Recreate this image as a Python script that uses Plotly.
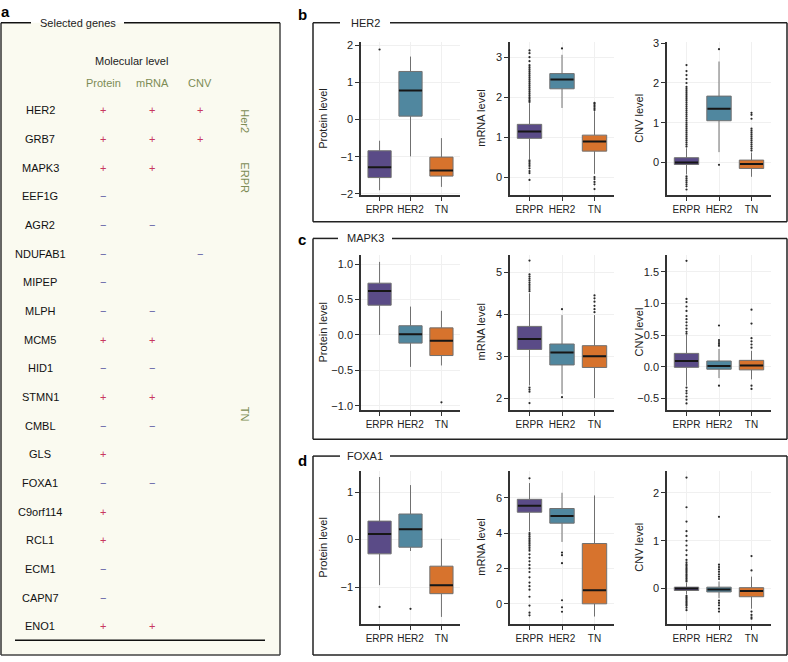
import plotly.graph_objects as go

W, H = 788, 662

# ---------------- Panel a data ----------------
genes = ["HER2", "GRB7", "MAPK3", "EEF1G", "AGR2", "NDUFAB1", "MIPEP", "MLPH", "MCM5",
         "HID1", "STMN1", "CMBL", "GLS", "FOXA1", "C9orf114", "RCL1", "ECM1", "CAPN7", "ENO1"]
protein_sign = ["+", "+", "+", "−", "−", "−", "−", "−", "+", "−", "+", "−", "+", "−", "+", "+", "−", "−", "+"]
mrna_sign    = ["+", "+", "+", "", "−", "", "", "−", "+", "−", "+", "−", "", "−", "", "", "", "", "+"]
cnv_sign     = ["+", "+", "", "", "", "−", "", "", "", "", "", "", "", "", "", "", "", "", ""]
level_labels = ["Protein", "mRNA", "CNV"]
subtype_labels = ["Her2", "ERPR", "TN"]

# ---------------- Panels b-d data ----------------
groups = ["ERPR", "HER2", "TN"]
# per group: (lower whisker, q1, median, q3, upper whisker)
her2_protein = [(-1.90, -1.56, -1.28, -0.84, -0.57), (-0.99, 0.09, 0.78, 1.29, 1.69), (-1.81, -1.52, -1.37, -1.01, -0.50)]
her2_protein_out = [[1.88], [], []]
her2_mrna = [(0.45, 0.97, 1.14, 1.32, 1.85), (1.73, 2.21, 2.44, 2.59, 3.06), (0.08, 0.65, 0.89, 1.05, 1.65)]
her2_mrna_out = [[1.88, 1.92, 1.96, 2.0, 2.05, 2.1, 2.15, 2.2, 2.25, 2.3, 2.35, 2.4, 2.45, 2.5, 2.55, 2.6, 2.65,
                  2.7, 2.75, 2.8, 2.9, 3.0, 3.1, 3.17, 0.42, 0.38, 0.33, 0.28, 0.22, 0.15, 0.1, -0.07],
                 [3.22],
                 [1.68, 1.72, 1.76, 1.8, 1.84, 1.86, 0.0, -0.05, -0.12, -0.18, -0.3]]
her2_cnv = [(-0.3, -0.05, 0.0, 0.12, 0.36), (0.26, 1.05, 1.35, 1.67, 2.54), (-0.36, -0.15, -0.04, 0.06, 0.25)]
her2_cnv_out = [[0.4, 0.45, 0.5, 0.55, 0.6, 0.65, 0.7, 0.75, 0.8, 0.85, 0.9, 0.95, 1.0, 1.05, 1.1, 1.15, 1.2,
                 1.25, 1.3, 1.35, 1.4, 1.45, 1.5, 1.55, 1.6, 1.65, 1.7, 1.75, 1.8, 1.85, 1.9, 2.0, 2.1, 2.2,
                 2.3, 2.45, -0.35, -0.4, -0.45, -0.5, -0.55, -0.6, -0.68],
                [2.85, -0.06],
                [0.3, 0.35, 0.4, 0.45, 0.5, 0.55, 0.6, 0.65, 0.7, 0.75, 0.8, 0.85, 1.1, 1.2, 1.25]]
mapk3_protein = [(0.0, 0.42, 0.62, 0.73, 1.03), (-0.45, -0.115, 0.01, 0.13, 0.40), (-0.43, -0.29, -0.08, 0.10, 0.34)]
mapk3_protein_out = [[], [], [-0.95]]
mapk3_mrna = [(2.3, 3.16, 3.41, 3.71, 4.5), (2.1, 2.79, 3.09, 3.29, 3.98), (2.0, 2.73, 3.0, 3.25, 3.98)]
mapk3_mrna_out = [[4.55, 4.6, 4.65, 4.7, 4.75, 4.8, 4.85, 4.9, 4.95, 5.28, 2.25, 2.2, 2.15, 1.88],
                  [4.12, 2.02],
                  [4.05, 4.12, 4.2, 4.3, 4.38, 4.45]]
mapk3_cnv = [(-0.3, -0.01, 0.09, 0.21, 0.5), (-0.18, -0.04, 0.01, 0.09, 0.28), (-0.2, -0.05, 0.02, 0.10, 0.25)]
mapk3_cnv_out = [[0.52, 0.55, 0.6, 0.65, 0.7, 0.75, 0.8, 0.88, 0.95, 1.02, 1.07, 1.67,
                  -0.33, -0.38, -0.42, -0.47, -0.52, -0.58],
                 [0.33, 0.36, 0.39, 0.42, 0.65, -0.3],
                 [0.3, 0.35, 0.4, 0.45, 0.68, 0.9, -0.3, -0.35]]
foxa1_protein = [(-0.96, -0.30, 0.12, 0.39, 1.32), (-0.24, -0.16, 0.22, 0.54, 1.15), (-1.63, -1.14, -0.96, -0.56, 0.02)]
foxa1_protein_out = [[-1.42], [-1.46], []]
foxa1_mrna = [(4.1, 5.18, 5.54, 5.91, 6.83), (3.5, 4.56, 4.97, 5.39, 6.28), (-0.72, 0.0, 0.76, 3.41, 6.13)]
foxa1_mrna_out = [[7.1, 4.0, 3.9, 3.8, 3.7, 3.6, 3.5, 3.4, 3.3, 3.2, 3.1, 3.0, 2.8, 2.6, 2.4, 2.2, 2.0, 1.8,
                   1.5, 1.2, 1.0, 0.8, 0.4, -0.1, -0.5, -0.65],
                  [2.9, 2.75, 2.3, 0.2, -0.2, -0.45],
                  []]
foxa1_cnv = [(-0.12, -0.04, 0.0, 0.03, 0.12), (-0.2, -0.07, -0.02, 0.03, 0.15), (-0.42, -0.17, -0.05, 0.02, 0.25)]
foxa1_cnv_out = [[0.15, 0.18, 0.21, 0.24, 0.27, 0.3, 0.33, 0.36, 0.39, 0.42, 0.45, 0.48, 0.51, 0.55,
                  0.6, 0.7, 0.8, 0.9, 1.0, 1.1, 1.2, 1.4, 1.7, 2.32,
                  -0.15, -0.18, -0.21, -0.24, -0.27, -0.3, -0.33, -0.36, -0.4, -0.45],
                 [0.2, 0.25, 0.3, 0.35, 0.4, 0.45, 0.5, 1.5, -0.25, -0.3, -0.35, -0.42, -0.48],
                 [0.38, 0.68, -0.48, -0.55, -0.6, -0.63]]

colors = ["#5a4b87", "#50879f", "#d7732d"]
edge_colors = ["#3e3262", "#345f72", "#9c5220"]
FONT = "Liberation Sans, Arial, Helvetica, sans-serif"


def px(x):
    return x / W


def py(y):
    return 1 - y / H


# subplot geometry (pixels)
col_x = [(361, 460), (510, 614), (667, 771)]
row_y = [(38, 193), (254, 411), (473, 629)]
title_x = [323, 481, 639]

panels = [
    [(her2_protein, her2_protein_out, "Protein level", [-2.03, 2.07], [-2, -1, 0, 1, 2], None),
     (her2_mrna, her2_mrna_out, "mRNA level", [-0.45, 3.37], [0, 1, 2, 3], None),
     (her2_cnv, her2_cnv_out, "CNV level", [-0.82, 3.02], [0, 1, 2, 3], None)],
    [(mapk3_protein, mapk3_protein_out, "Protein level", [-1.055, 1.125], [-1.0, -0.5, 0.0, 0.5, 1.0], ".1f"),
     (mapk3_mrna, mapk3_mrna_out, "mRNA level", [1.72, 5.41], [2, 3, 4, 5], None),
     (mapk3_cnv, mapk3_cnv_out, "CNV level", [-0.68, 1.76], [-0.5, 0.0, 0.5, 1.0, 1.5], ".1f")],
    [(foxa1_protein, foxa1_protein_out, "Protein level", [-1.79, 1.45], [-1, 0, 1], None),
     (foxa1_mrna, foxa1_mrna_out, "mRNA level", [-1.17, 7.52], [0, 2, 4, 6], None),
     (foxa1_cnv, foxa1_cnv_out, "CNV level", [-0.75, 2.46], [0, 1, 2], None)],
]

fig = go.Figure()
layout_axes = {}
annotations = []
shapes = []

k = 0
for r, row in enumerate(panels):
    for c, (stats, outs, ytitle, yr, yticks, fmt) in enumerate(row):
        k += 1
        xa = "x" if k == 1 else f"x{k}"
        ya = "y" if k == 1 else f"y{k}"
        for g in range(3):
            lo, q1, med, q3, hi = stats[g]
            fig.add_trace(go.Box(
                x=[g + 1], q1=[q1], median=[med], q3=[q3], lowerfence=[lo], upperfence=[hi],
                width=0.75, whiskerwidth=0, fillcolor=colors[g],
                line=dict(color="#707070", width=1), xaxis=xa, yaxis=ya,
                showlegend=False, name=groups[g], hoverinfo="skip"))
            if outs[g]:
                fig.add_trace(go.Scatter(
                    x=[g + 1] * len(outs[g]), y=outs[g], mode="markers",
                    marker=dict(size=2.2, color="#2a2a2a"), xaxis=xa, yaxis=ya,
                    showlegend=False, hoverinfo="skip"))
        # median bars
        fig.add_trace(go.Scatter(
            x=[1, 2, 3], y=[s[2] for s in stats], mode="markers",
            marker=dict(symbol="line-ew", size=16.5, line=dict(width=2, color="#161616")),
            xaxis=xa, yaxis=ya, showlegend=False, hoverinfo="skip"))
        x0, x1 = col_x[c]
        y0, y1 = row_y[r]
        xkey = "xaxis" if k == 1 else f"xaxis{k}"
        ykey = "yaxis" if k == 1 else f"yaxis{k}"
        layout_axes[xkey] = dict(
            domain=[px(x0), px(x1)], anchor=ya, range=[0.4, 3.6],
            tickmode="array", tickvals=[1, 2, 3], ticktext=groups,
            showline=True, linecolor="#333", linewidth=1.5,
            ticks="outside", ticklen=4, tickwidth=1.2, tickcolor="#333",
            showgrid=True, gridcolor="#f0f0f0", gridwidth=1, zeroline=False,
            tickfont=dict(family=FONT, size=10, color="#222"), fixedrange=True)
        ydict = dict(
            domain=[py(y1), py(y0)], anchor=xa, range=yr,
            tickmode="array", tickvals=yticks,
            showline=True, linecolor="#333", linewidth=1.5,
            ticks="outside", ticklen=4, tickwidth=1.2, tickcolor="#333",
            showgrid=True, gridcolor="#f0f0f0", gridwidth=1, zeroline=False,
            tickfont=dict(family=FONT, size=11, color="#222"), fixedrange=True)
        if fmt:
            ydict["tickformat"] = fmt
        layout_axes[ykey] = ydict
        annotations.append(dict(
            x=px(title_x[c]), y=py((y0 + y1) / 2), xref="paper", yref="paper",
            text=ytitle, textangle=-90, showarrow=False,
            font=dict(family=FONT, size=11, color="#222"), xanchor="center", yanchor="middle"))

# ---------------- frames ----------------
def line(xa, ya, xb, yb, color="#222", width=1.5):
    shapes.append(dict(type="line", xref="paper", yref="paper",
                       x0=px(xa), y0=py(ya), x1=px(xb), y1=py(yb),
                       line=dict(color=color, width=width)))

# panel a background & frame
shapes.append(dict(type="rect", xref="paper", yref="paper", x0=px(1), x1=px(280),
                   y0=py(660), y1=py(18), fillcolor="#fafaf0", line=dict(width=0), layer="below"))
line(1, 18, 1, 660, "#333", 1.5)
line(280, 18, 280, 660, "#444", 1.5)
line(1, 660, 280, 660, "#444", 1.5)
line(1, 18, 31, 18, "#111", 1.5)
line(124, 18, 280, 18, "#111", 1.5)
line(15, 645, 265, 645, "#111", 1.5)

# panels b-d frames
frames = [("b", "HER2", 18, 220, 340, 390, 10),
          ("c", "MAPK3", 237, 441, 338, 392, 238),
          ("d", "FOXA1", 458, 660, 340, 390, 462)]
for letter, title, top, bot, gap0, gap1, ly in frames:
    line(313, top, 313, bot)
    line(787, top, 787, bot)
    line(313, bot, 787, bot)
    line(313, top, gap0, top)
    line(gap1, top, 787, top)
    annotations.append(dict(x=px((gap0 + gap1) / 2), y=py(top), xref="paper", yref="paper",
                            text=title, showarrow=False, xanchor="center", yanchor="middle",
                            font=dict(family=FONT, size=11, color="#222")))
    annotations.append(dict(x=px(302), y=py(ly), xref="paper", yref="paper",
                            text=f"<b>{letter}</b>", showarrow=False, xanchor="center", yanchor="middle",
                            font=dict(family=FONT, size=15, color="#000")))

annotations.append(dict(x=px(5), y=py(7), xref="paper", yref="paper", text="<b>a</b>",
                        showarrow=False, xanchor="center", yanchor="middle",
                        font=dict(family=FONT, size=15, color="#000")))
annotations.append(dict(x=px(38), y=py(18), xref="paper", yref="paper", text="Selected genes",
                        showarrow=False, xanchor="left", yanchor="middle",
                        font=dict(family=FONT, size=11, color="#222")))
annotations.append(dict(x=px(131), y=py(57), xref="paper", yref="paper", text="Molecular level",
                        showarrow=False, xanchor="center", yanchor="middle",
                        font=dict(family=FONT, size=11, color="#222")))

level_x = [103, 152, 200]
green = "#7d8c55"
for lx, lab in zip(level_x, level_labels):
    annotations.append(dict(x=px(lx), y=py(79), xref="paper", yref="paper", text=lab,
                            showarrow=False, xanchor="center", yanchor="middle",
                            font=dict(family=FONT, size=11, color=green)))

row0, dy = 107, 29.1
for i, g in enumerate(genes):
    yy = row0 + i * dy
    annotations.append(dict(x=px(40), y=py(yy), xref="paper", yref="paper", text=g,
                            showarrow=False, xanchor="center", yanchor="middle",
                            font=dict(family=FONT, size=11, color="#111")))
    for lx, sign in zip(level_x, (protein_sign[i], mrna_sign[i], cnv_sign[i])):
        if sign:
            annotations.append(dict(x=px(lx), y=py(yy), xref="paper", yref="paper", text=sign,
                                    showarrow=False, xanchor="center", yanchor="middle",
                                    font=dict(family=FONT, size=11,
                                              color="#c8385f" if sign == "+" else "#5b5ba3")))

subtype_y = [118, 175, 415]
for sy, lab in zip(subtype_y, subtype_labels):
    annotations.append(dict(x=px(245), y=py(sy), xref="paper", yref="paper", text=lab,
                            textangle=90, showarrow=False, xanchor="center", yanchor="middle",
                            font=dict(family=FONT, size=11, color=green)))

fig.update_layout(
    width=W, height=H, margin=dict(l=0, r=0, t=0, b=0),
    paper_bgcolor="white", plot_bgcolor="white",
    boxmode="overlay", showlegend=False,
    annotations=annotations, shapes=shapes, **layout_axes)

fig.write_html("out.html", config={"displayModeBar": False},
               post_script="document.body.style.margin='0';")
